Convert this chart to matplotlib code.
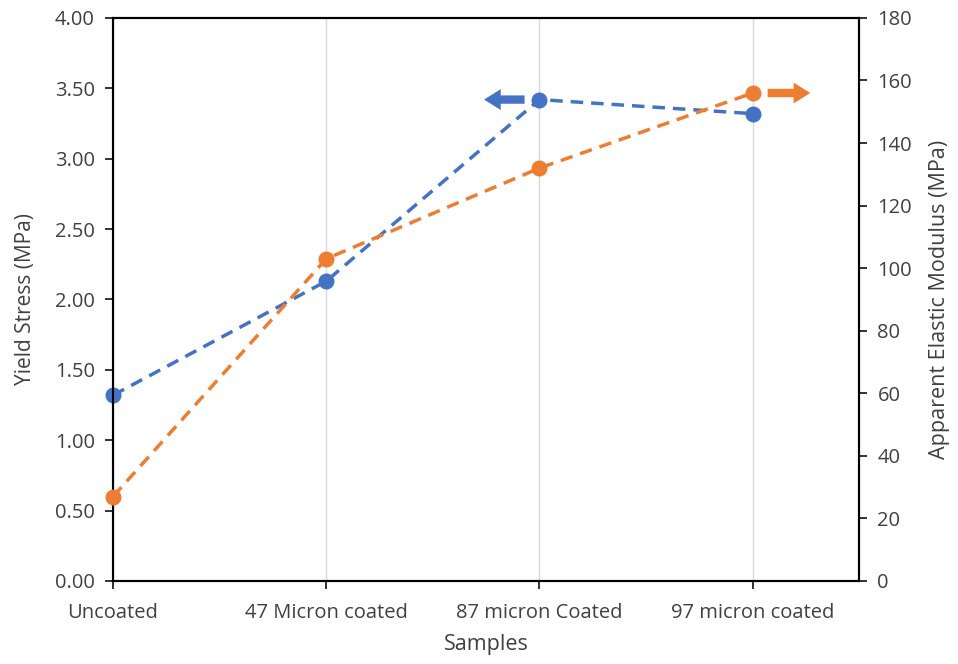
import matplotlib
matplotlib.use("Agg")
import matplotlib.pyplot as plt

samples = ["Uncoated", "47 Micron coated", "87 micron Coated", "97 micron coated"]
yield_stress = [1.32, 2.13, 3.42, 3.32]        # MPa, left axis
elastic_modulus = [27, 103, 132, 156]          # MPa, right axis

blue = "#4472C4"
orange = "#ED7D31"
plt.rcParams["font.family"] = ["Open Sans", "DejaVu Sans"]

fig = plt.figure(figsize=(9.58, 6.64), dpi=100)
ax = fig.add_axes([0.118, 0.125, 0.779, 0.848])
ax2 = ax.twinx()

x = list(range(len(samples)))

dash = (0, (3.6, 2.3))
ax.plot(x, yield_stress, color=blue, lw=2.5, ls=dash,
        marker="o", ms=10.5, clip_on=False, zorder=3)
ax2.plot(x, elastic_modulus, color=orange, lw=2.5, ls=dash,
         marker="o", ms=10.5, clip_on=False, zorder=3)

ax.set_xlim(0, 3.5)
ax.set_ylim(0, 4)
ax2.set_ylim(0, 180)

ax.set_yticks([i * 0.5 for i in range(9)])
ax.set_yticklabels([f"{i * 0.5:.2f}" for i in range(9)])
ax2.set_yticks(range(0, 181, 20))
ax.set_xticks(x)
ax.set_xticklabels(samples)

for a in (ax, ax2):
    for s in a.spines.values():
        s.set_color("black")
        s.set_linewidth(1.5)
    a.tick_params(direction="out", length=6, width=1.3, labelsize=14.5, colors="#222222",
                  labelcolor="#404040")
ax.tick_params(axis="x", pad=10)
ax.tick_params(axis="y", pad=7)
ax2.tick_params(axis="y", pad=7)

ax.grid(axis="x", color="#d9d9d9", lw=1)
ax.set_axisbelow(True)

ax.set_xlabel("Samples", fontsize=15.5, color="#404040", labelpad=8)
ax.set_ylabel("Yield Stress (MPa)", fontsize=15, color="#404040", labelpad=14)
ax2.set_ylabel("Apparent Elastic Modulus (MPa)", fontsize=15.5, color="#404040", labelpad=12)

# Arrows pointing to the axis each series belongs to
arrow_style = "simple,head_width=0.75,head_length=0.6,tail_width=0.3"
ax.annotate("", xy=(1.74, yield_stress[2]), xytext=(1.93, yield_stress[2]),
            arrowprops=dict(arrowstyle=arrow_style, mutation_scale=20,
                            color=blue, lw=0, shrinkA=0, shrinkB=0))
ax2.annotate("", xy=(3.27, elastic_modulus[3]), xytext=(3.07, elastic_modulus[3]),
             arrowprops=dict(arrowstyle=arrow_style, mutation_scale=20,
                             color=orange, lw=0, shrinkA=0, shrinkB=0))

fig.savefig("out.png", dpi=100)
